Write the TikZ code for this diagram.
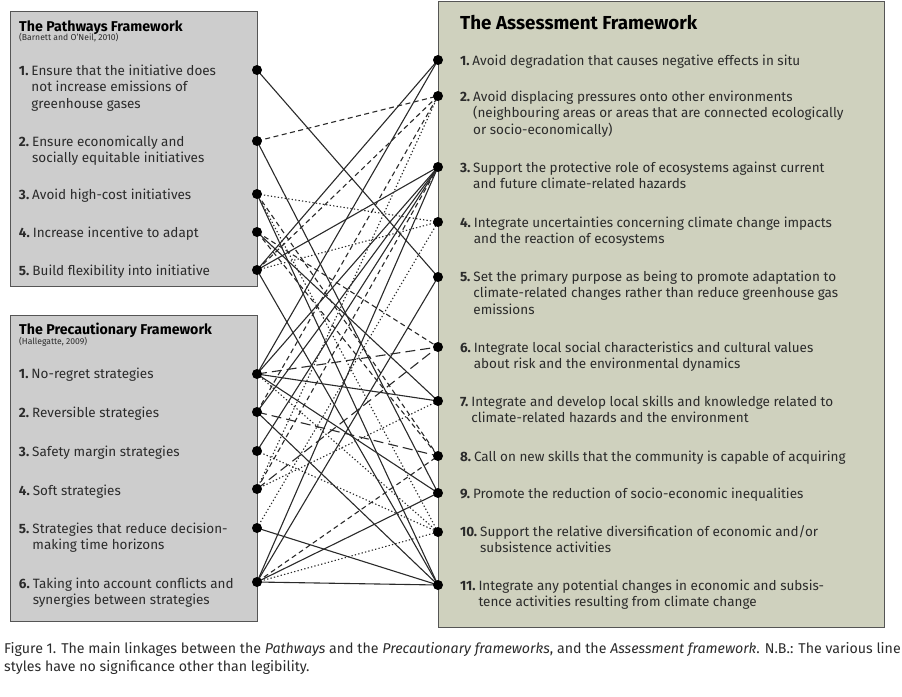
\documentclass[tikz,border=0pt]{standalone}
\usepackage{fontspec}
\setmainfont{Fira Sans}
\newfontfamily\capfont{Fira Sans}
\definecolor{txt}{HTML}{2B2B2B}
\definecolor{lbox}{HTML}{CDCDCD}
\definecolor{rbox}{HTML}{CFD1BE}
\definecolor{bord}{HTML}{555555}
\definecolor{lnc}{HTML}{2A2A2A}
\newcommand{\itm}[3]{\textbf{#1}\hspace{0.22em}\parbox[t]{#2}{\raggedright #3}}
\begin{document}
\begin{tikzpicture}[x=1pt,y=-1pt,
  txtnode/.style={anchor=base west,inner sep=0,outer sep=0,text=txt,font=\fontsize{13.5}{16.8}\selectfont},
  ttl/.style={anchor=base west,inner sep=0,text=black,font=\fontsize{14.2}{16}\selectfont\bfseries},
  sub/.style={anchor=base west,inner sep=0,text=txt,font=\fontsize{8.6}{9}\selectfont},
  dotn/.style={circle,fill=black,inner sep=0,minimum size=10pt},
  ln/.style={draw=lnc,line width=1.1pt},
  sol/.style={ln},
  dsh/.style={ln,dash pattern=on 5pt off 3.5pt},
  dtt/.style={ln,dash pattern=on 1.3pt off 2.2pt},
  ldsh/.style={ln,dash pattern=on 10pt off 5pt}]
\useasboundingbox (0,0) rectangle (902,696);
% boxes
\draw[fill=lbox,draw=bord,line width=1pt] (10,11) rectangle (257,286);
\draw[fill=lbox,draw=bord,line width=1pt] (10,315) rectangle (257,621);
\draw[fill=rbox,draw=bord,line width=1pt] (438,1) rectangle (884,627);
% left box 1
\node[ttl] (t1) at (19,31) {The Pathways Framework};
\node[sub] (s1) at (19,40.5) {(Barnett and O’Neil, 2010)};
\node[txtnode] (lp1) at (19,75) {\itm{1.}{220pt}{Ensure that the initiative does\\not increase emissions of\\greenhouse gases}};
\node[txtnode] (lp2) at (19,146) {\itm{2.}{220pt}{Ensure economically and\\socially equitable initiatives}};
\node[txtnode] (lp3) at (19,199) {\itm{3.}{220pt}{Avoid high-cost initiatives}};
\node[txtnode] (lp4) at (19,237) {\itm{4.}{220pt}{Increase incentive to adapt}};
\node[txtnode] (lp5) at (19,275) {\itm{5.}{220pt}{Build flexibility into initiative}};
% left box 2
\node[ttl] (t2) at (19,334) {The Precautionary Framework};
\node[sub] (s2) at (19,344.5) {(Hallegatte, 2009)};
\node[txtnode] (lq1) at (19,378) {\itm{1.}{220pt}{No-regret strategies}};
\node[txtnode] (lq2) at (19,417) {\itm{2.}{220pt}{Reversible strategies}};
\node[txtnode] (lq3) at (19,456) {\itm{3.}{220pt}{Safety margin strategies}};
\node[txtnode] (lq4) at (19,495) {\itm{4.}{220pt}{Soft strategies}};
\node[txtnode] (lq5) at (19,533) {\itm{5.}{220pt}{Strategies that reduce decision-\\making time horizons}};
\node[txtnode] (lq6) at (19,588) {\itm{6.}{220pt}{Taking into account conflicts and\\synergies between strategies}};
% right box
\node[ttl,font=\fontsize{18.8}{20}\selectfont\bfseries] (t3) at (460,29.5) {The Assessment Framework};
\node[txtnode] (ra1) at (460,65) {\itm{1.}{410pt}{Avoid degradation that causes negative effects in situ}};
\node[txtnode] (ra2) at (460,101) {\itm{2.}{410pt}{Avoid displacing pressures onto other environments\\(neighbouring areas or areas that are connected ecologically\\or socio-economically)}};
\node[txtnode] (ra3) at (460,172) {\itm{3.}{410pt}{Support the protective role of ecosystems against current\\and future climate-related hazards}};
\node[txtnode] (ra4) at (460,227) {\itm{4.}{410pt}{Integrate uncertainties concerning climate change impacts\\and the reaction of ecosystems}};
\node[txtnode] (ra5) at (460,281) {\itm{5.}{410pt}{Set the primary purpose as being to promote adaptation to\\climate-related changes rather than reduce greenhouse gas\\emissions}};
\node[txtnode] (ra6) at (460,352) {\itm{6.}{410pt}{Integrate local social characteristics and cultural values\\about risk and the environmental dynamics}};
\node[txtnode] (ra7) at (460,406) {\itm{7.}{410pt}{Integrate and develop local skills and knowledge related to\\climate-related hazards and the environment}};
\node[txtnode] (ra8) at (460,461) {\itm{8.}{410pt}{Call on new skills that the community is capable of acquiring}};
\node[txtnode] (ra9) at (460,498) {\itm{9.}{410pt}{Promote the reduction of socio-economic inequalities}};
\node[txtnode] (ra10) at (460,536) {\itm{10.}{410pt}{Support the relative diversification of economic and/or\\subsistence activities}};
\node[txtnode] (ra11) at (460,590) {\itm{11.}{410pt}{Integrate any potential changes in economic and subsis-\\tence activities resulting from climate change}};
% caption
\node[anchor=base west,inner sep=0,text=txt,font=\capfont\fontsize{14.2}{18}\selectfont,align=left] (cap) at (4,671)
 {Figure 1. The main linkages between the \textit{Pathways} and the \textit{Precautionary frameworks}, and the \textit{Assessment framework}. N.B.: The various line\\styles have no significance other than legibility.};
% endpoint coordinates
\coordinate (P1) at (257,70); \coordinate (P2) at (257,141); \coordinate (P3) at (257,194);
\coordinate (P4) at (257,232); \coordinate (P5) at (257,270);
\coordinate (Q1) at (257,374); \coordinate (Q2) at (257,412); \coordinate (Q3) at (257,451);
\coordinate (Q4) at (257,489); \coordinate (Q5) at (257,528); \coordinate (Q6) at (257,582);
\coordinate (A1) at (438,60); \coordinate (A2) at (438,96); \coordinate (A3) at (438,167);
\coordinate (A4) at (438,222); \coordinate (A5) at (438,277); \coordinate (A6) at (438,347);
\coordinate (A7) at (438,401); \coordinate (A8) at (438,456); \coordinate (A9) at (438,493);
\coordinate (A10) at (438,532); \coordinate (A11) at (438,585);
% connectors
\draw[sol] (P1) -- (A5);
\draw[dsh] (P2) -- (A2);
\draw[sol] (P2) -- (A9);
\draw[dtt] (P3) -- (A4);
\draw[dsh] (P3) -- (A8);
\draw[dtt] (P3) -- (A10);
\draw[sol] (P3) -- (A11);
\draw[dsh] (P4) -- (A6);
\draw[sol] (P4) -- (A7);
\draw[dsh] (P4) -- (A8);
\draw[sol] (P5) -- (A1);
\draw[dsh] (P5) -- (A2);
\draw[sol] (P5) -- (A3);
\draw[dtt] (P5) -- (A4);
\draw[sol] (P5) -- (A11);
\draw[sol] (Q1) -- (A1);
\draw[sol] (Q1) -- (A3);
\draw[ldsh] (Q1) -- (A6);
\draw[sol] (Q1) -- (A7);
\draw[sol] (Q1) -- (A9);
\draw[dtt] (Q1) -- (A10);
\draw[dsh] (Q2) -- (A2);
\draw[sol] (Q2) -- (A3);
\draw[ldsh] (Q2) -- (A8);
\draw[sol] (Q2) -- (A11);
\draw[sol] (Q3) -- (A3);
\draw[dtt] (Q3) -- (A10);
\draw[dtt] (Q4) -- (A2);
\draw[dsh] (Q4) -- (A3);
\draw[ldsh] (Q4) -- (A6);
\draw[dtt] (Q4) -- (A7);
\draw[dtt] (Q5) -- (A4);
\draw[sol] (Q5) -- (A11);
\draw[sol] (Q6) -- (A3);
\draw[sol] (Q6) -- (A5);
\draw[dsh] (Q6) -- (A8);
\draw[sol] (Q6) -- (A9);
\draw[dtt] (Q6) -- (A10);
\draw[sol] (Q6) -- (A11);
% dots
\foreach \p in {P1,P2,P3,P4,P5,Q1,Q2,Q3,Q4,Q5,Q6,A1,A2,A3,A4,A5,A6,A7,A8,A9,A10,A11}
  \node[dotn] (d\p) at (\p) {};
\end{tikzpicture}
\end{document}
